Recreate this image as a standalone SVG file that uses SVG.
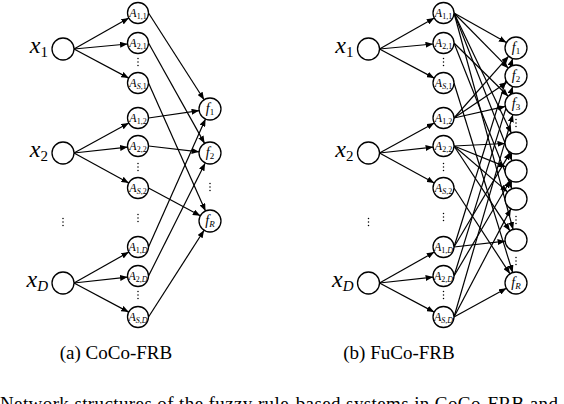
<svg xmlns="http://www.w3.org/2000/svg" width="564" height="404" viewBox="0 0 564 404">
<style>
.n{fill:#fff;stroke:#000;stroke-width:1.3}
.c line{stroke:#000;stroke-width:1.2;marker-end:url(#ah)}
.t{font-family:"Liberation Serif","Times New Roman",serif;fill:#000}
.al{font-style:italic;font-size:12px}
.fl{font-style:italic;font-size:14px}
.xl{font-style:italic;font-size:24px}
.s{font-style:normal;font-size:8px}
.si{font-style:italic;font-size:8px}
.fs{font-style:normal;font-size:9px}
.fsi{font-style:italic;font-size:9px}
.xs{font-style:normal;font-size:15px}
.xsi{font-style:italic;font-size:15px}
.cap{font-size:19px}
.d{fill:#000}
</style>
<defs>
<marker id="ah" markerUnits="userSpaceOnUse" markerWidth="8" markerHeight="6" refX="7.5" refY="3" orient="auto"><path d="M0,0 L7.5,3 L0,6 z" fill="#000"/></marker>
</defs>

<g id="connectors" class="c">
<line x1="74" y1="49" x2="128.8" y2="18.1"/>
<line x1="74" y1="49" x2="127.5" y2="44"/>
<line x1="74" y1="49" x2="128.7" y2="78.1"/>
<line x1="74" y1="153" x2="128.8" y2="123"/>
<line x1="74" y1="153" x2="127.6" y2="147.1"/>
<line x1="74" y1="153" x2="128.8" y2="183"/>
<line x1="74" y1="283" x2="128.8" y2="252.1"/>
<line x1="74" y1="283" x2="127.6" y2="277.1"/>
<line x1="74" y1="283" x2="128.7" y2="312.1"/>
<line x1="148.5" y1="13" x2="204.1" y2="99.7"/>
<line x1="148.5" y1="118" x2="199.1" y2="110.6"/>
<line x1="148.5" y1="247" x2="205.5" y2="119"/>
<line x1="148.5" y1="43" x2="204.6" y2="143.4"/>
<line x1="148.5" y1="146" x2="199.1" y2="151.8"/>
<line x1="148.5" y1="276" x2="205.1" y2="163.2"/>
<line x1="148.5" y1="83" x2="205.5" y2="211"/>
<line x1="148.5" y1="188" x2="200.3" y2="215.8"/>
<line x1="148.5" y1="317" x2="204.1" y2="230.3"/>
<line x1="379.5" y1="49" x2="434.3" y2="18.1"/>
<line x1="379.5" y1="49" x2="433" y2="44"/>
<line x1="379.5" y1="49" x2="434.2" y2="78.1"/>
<line x1="379.5" y1="153" x2="434.3" y2="123"/>
<line x1="379.5" y1="153" x2="433.1" y2="147.1"/>
<line x1="379.5" y1="153" x2="434.3" y2="183"/>
<line x1="379.5" y1="283" x2="434.3" y2="252.1"/>
<line x1="379.5" y1="283" x2="433.1" y2="277.1"/>
<line x1="379.5" y1="283" x2="434.2" y2="312.1"/>
<line x1="454" y1="13" x2="506.4" y2="42.6"/>
<line x1="454" y1="13" x2="508.3" y2="68.2"/>
<line x1="454" y1="13" x2="511.3" y2="133.1"/>
<line x1="454" y1="13" x2="512" y2="160.8"/>
<line x1="454" y1="13" x2="513.1" y2="229.4"/>
<line x1="454" y1="43" x2="508.2" y2="96.3"/>
<line x1="454" y1="43" x2="511.9" y2="188.8"/>
<line x1="454" y1="83" x2="512.7" y2="272.5"/>
<line x1="454" y1="118" x2="508.7" y2="56.2"/>
<line x1="454" y1="118" x2="506.9" y2="82.2"/>
<line x1="454" y1="118" x2="505.3" y2="106.4"/>
<line x1="454" y1="146" x2="505" y2="143.5"/>
<line x1="454" y1="146" x2="505.8" y2="166.9"/>
<line x1="454" y1="146" x2="507.6" y2="191.9"/>
<line x1="454" y1="146" x2="509.9" y2="230.8"/>
<line x1="454" y1="188" x2="510" y2="273.8"/>
<line x1="454" y1="247" x2="512.7" y2="58.5"/>
<line x1="454" y1="247" x2="510.4" y2="152.4"/>
<line x1="454" y1="247" x2="505.1" y2="241.2"/>
<line x1="454" y1="276" x2="512.7" y2="86.5"/>
<line x1="454" y1="276" x2="510.4" y2="180.5"/>
<line x1="454" y1="317" x2="512.9" y2="114.6"/>
<line x1="454" y1="317" x2="510.9" y2="208.7"/>
<line x1="454" y1="317" x2="506.4" y2="288.3"/>
</g>

<g id="a-x1"><circle class="n" cx="63" cy="49" r="11"/><text class="t xl" x="48" y="53" text-anchor="end">x<tspan class="xs" dy="4">1</tspan></text></g>
<g id="a-x2"><circle class="n" cx="63" cy="153" r="11"/><text class="t xl" x="48" y="157" text-anchor="end">x<tspan class="xs" dy="4">2</tspan></text></g>
<g id="a-xD"><circle class="n" cx="63" cy="283" r="11"/><text class="t xl" x="48" y="287" text-anchor="end">x<tspan class="xsi" dy="4">D</tspan></text></g>

<g id="a-A11"><circle class="n" cx="138" cy="13" r="10.5"/><text class="t al" x="138" y="16.5" text-anchor="middle">A<tspan class="s" dy="2.5">1,1</tspan></text></g>
<g id="a-A21"><circle class="n" cx="138" cy="43" r="10.5"/><text class="t al" x="138" y="46.5" text-anchor="middle">A<tspan class="s" dy="2.5">2,1</tspan></text></g>
<g id="a-AS1"><circle class="n" cx="138" cy="83" r="10.5"/><text class="t al" x="138" y="86.5" text-anchor="middle">A<tspan class="si" dy="2.5">S</tspan><tspan class="s">,1</tspan></text></g>
<g id="a-A12"><circle class="n" cx="138" cy="118" r="10.5"/><text class="t al" x="138" y="121.5" text-anchor="middle">A<tspan class="s" dy="2.5">1,2</tspan></text></g>
<g id="a-A22"><circle class="n" cx="138" cy="146" r="10.5"/><text class="t al" x="138" y="149.5" text-anchor="middle">A<tspan class="s" dy="2.5">2,2</tspan></text></g>
<g id="a-AS2"><circle class="n" cx="138" cy="188" r="10.5"/><text class="t al" x="138" y="191.5" text-anchor="middle">A<tspan class="si" dy="2.5">S</tspan><tspan class="s">,2</tspan></text></g>
<g id="a-A1D"><circle class="n" cx="138" cy="247" r="10.5"/><text class="t al" x="138" y="250.5" text-anchor="middle">A<tspan class="s" dy="2.5">1,</tspan><tspan class="si">D</tspan></text></g>
<g id="a-A2D"><circle class="n" cx="138" cy="276" r="10.5"/><text class="t al" x="138" y="279.5" text-anchor="middle">A<tspan class="s" dy="2.5">2,</tspan><tspan class="si">D</tspan></text></g>
<g id="a-ASD"><circle class="n" cx="138" cy="317" r="10.5"/><text class="t al" x="138" y="320.5" text-anchor="middle">A<tspan class="si" dy="2.5">S</tspan><tspan class="s">,</tspan><tspan class="si">D</tspan></text></g>

<g id="a-f1"><circle class="n" cx="210" cy="109" r="11"/><text class="t fl" x="210" y="113" text-anchor="middle">f<tspan class="fs" dy="2">1</tspan></text></g>
<g id="a-f2"><circle class="n" cx="210" cy="153" r="11"/><text class="t fl" x="210" y="157" text-anchor="middle">f<tspan class="fs" dy="2">2</tspan></text></g>
<g id="a-fR"><circle class="n" cx="210" cy="221" r="11"/><text class="t fl" x="210" y="225" text-anchor="middle">f<tspan class="fsi" dy="2">R</tspan></text></g>

<g id="b-x1"><circle class="n" cx="368.5" cy="49" r="11"/><text class="t xl" x="353.5" y="53" text-anchor="end">x<tspan class="xs" dy="4">1</tspan></text></g>
<g id="b-x2"><circle class="n" cx="368.5" cy="153" r="11"/><text class="t xl" x="353.5" y="157" text-anchor="end">x<tspan class="xs" dy="4">2</tspan></text></g>
<g id="b-xD"><circle class="n" cx="368.5" cy="283" r="11"/><text class="t xl" x="353.5" y="287" text-anchor="end">x<tspan class="xsi" dy="4">D</tspan></text></g>

<g id="b-A11"><circle class="n" cx="443.5" cy="13" r="10.5"/><text class="t al" x="443.5" y="16.5" text-anchor="middle">A<tspan class="s" dy="2.5">1,1</tspan></text></g>
<g id="b-A21"><circle class="n" cx="443.5" cy="43" r="10.5"/><text class="t al" x="443.5" y="46.5" text-anchor="middle">A<tspan class="s" dy="2.5">2,1</tspan></text></g>
<g id="b-AS1"><circle class="n" cx="443.5" cy="83" r="10.5"/><text class="t al" x="443.5" y="86.5" text-anchor="middle">A<tspan class="si" dy="2.5">S</tspan><tspan class="s">,1</tspan></text></g>
<g id="b-A12"><circle class="n" cx="443.5" cy="118" r="10.5"/><text class="t al" x="443.5" y="121.5" text-anchor="middle">A<tspan class="s" dy="2.5">1,2</tspan></text></g>
<g id="b-A22"><circle class="n" cx="443.5" cy="146" r="10.5"/><text class="t al" x="443.5" y="149.5" text-anchor="middle">A<tspan class="s" dy="2.5">2,2</tspan></text></g>
<g id="b-AS2"><circle class="n" cx="443.5" cy="188" r="10.5"/><text class="t al" x="443.5" y="191.5" text-anchor="middle">A<tspan class="si" dy="2.5">S</tspan><tspan class="s">,2</tspan></text></g>
<g id="b-A1D"><circle class="n" cx="443.5" cy="247" r="10.5"/><text class="t al" x="443.5" y="250.5" text-anchor="middle">A<tspan class="s" dy="2.5">1,</tspan><tspan class="si">D</tspan></text></g>
<g id="b-A2D"><circle class="n" cx="443.5" cy="276" r="10.5"/><text class="t al" x="443.5" y="279.5" text-anchor="middle">A<tspan class="s" dy="2.5">2,</tspan><tspan class="si">D</tspan></text></g>
<g id="b-ASD"><circle class="n" cx="443.5" cy="317" r="10.5"/><text class="t al" x="443.5" y="320.5" text-anchor="middle">A<tspan class="si" dy="2.5">S</tspan><tspan class="s">,</tspan><tspan class="si">D</tspan></text></g>

<g id="b-f1"><circle class="n" cx="516" cy="48" r="11"/><text class="t fl" x="516" y="52" text-anchor="middle">f<tspan class="fs" dy="2">1</tspan></text></g>
<g id="b-f2"><circle class="n" cx="516" cy="76" r="11"/><text class="t fl" x="516" y="80" text-anchor="middle">f<tspan class="fs" dy="2">2</tspan></text></g>
<g id="b-f3"><circle class="n" cx="516" cy="104" r="11"/><text class="t fl" x="516" y="108" text-anchor="middle">f<tspan class="fs" dy="2">3</tspan></text></g>
<g id="b-f4"><circle class="n" cx="516" cy="143" r="11"/></g>
<g id="b-f5"><circle class="n" cx="516" cy="171" r="11"/></g>
<g id="b-f6"><circle class="n" cx="516" cy="199" r="11"/></g>
<g id="b-f7"><circle class="n" cx="516" cy="240" r="11"/></g>
<g id="b-fR"><circle class="n" cx="516" cy="283" r="11"/><text class="t fl" x="516" y="287" text-anchor="middle">f<tspan class="fsi" dy="2">R</tspan></text></g>

<g id="ellipses" class="d">
<circle cx="138" cy="58.5" r="0.75"/><circle cx="138" cy="62" r="0.75"/><circle cx="138" cy="65.5" r="0.75"/>
<circle cx="138" cy="163.5" r="0.75"/><circle cx="138" cy="167" r="0.75"/><circle cx="138" cy="170.5" r="0.75"/>
<circle cx="138" cy="214.5" r="0.75"/><circle cx="138" cy="218" r="0.75"/><circle cx="138" cy="221.5" r="0.75"/>
<circle cx="138" cy="291.5" r="0.75"/><circle cx="138" cy="295" r="0.75"/><circle cx="138" cy="298.5" r="0.75"/>
<circle cx="63" cy="218.5" r="0.75"/><circle cx="63" cy="222" r="0.75"/><circle cx="63" cy="225.5" r="0.75"/>
<circle cx="210" cy="183.5" r="0.75"/><circle cx="210" cy="187" r="0.75"/><circle cx="210" cy="190.5" r="0.75"/>
<circle cx="443.5" cy="58.5" r="0.75"/><circle cx="443.5" cy="62" r="0.75"/><circle cx="443.5" cy="65.5" r="0.75"/>
<circle cx="443.5" cy="163.5" r="0.75"/><circle cx="443.5" cy="167" r="0.75"/><circle cx="443.5" cy="170.5" r="0.75"/>
<circle cx="443.5" cy="213.5" r="0.75"/><circle cx="443.5" cy="217" r="0.75"/><circle cx="443.5" cy="220.5" r="0.75"/>
<circle cx="443.5" cy="291.5" r="0.75"/><circle cx="443.5" cy="295" r="0.75"/><circle cx="443.5" cy="298.5" r="0.75"/>
<circle cx="368.5" cy="218.5" r="0.75"/><circle cx="368.5" cy="222" r="0.75"/><circle cx="368.5" cy="225.5" r="0.75"/>
<circle cx="516" cy="119.5" r="0.75"/><circle cx="516" cy="123" r="0.75"/><circle cx="516" cy="126.5" r="0.75"/>
<circle cx="516" cy="216.5" r="0.75"/><circle cx="516" cy="220" r="0.75"/><circle cx="516" cy="223.5" r="0.75"/>
<circle cx="516" cy="257.5" r="0.75"/><circle cx="516" cy="261" r="0.75"/><circle cx="516" cy="264.5" r="0.75"/>
</g>

<text class="t cap" x="116" y="359" text-anchor="middle">(a)  CoCo-FRB</text>
<text class="t cap" x="399" y="359" text-anchor="middle">(b)  FuCo-FRB</text>
<text class="t cap" x="0" y="410" textLength="558" lengthAdjust="spacing">Network structures of the fuzzy rule-based systems in CoCo-FRB and</text>
</svg>
